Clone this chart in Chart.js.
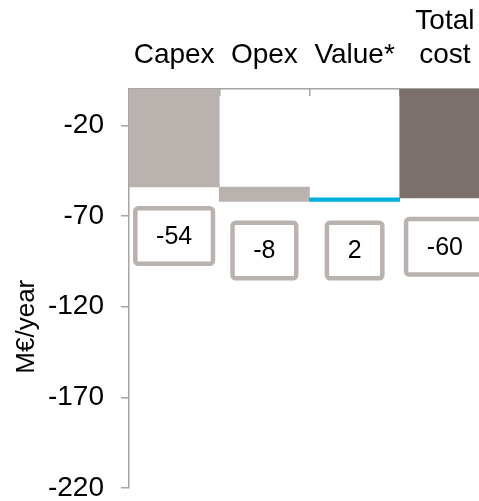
<!DOCTYPE html>
<html>
<head>
<meta charset="utf-8">
<script src="https://cdn.jsdelivr.net/npm/chart.js@4/dist/chart.umd.min.js"></script>
<style>
  html, body { margin: 0; padding: 0; background: #fff; overflow: hidden; }
  #wrap { width: 500px; height: 522px; position: relative; }
</style>
</head>
<body>
<div id="wrap"><canvas id="c" width="500" height="522"></canvas></div>
<script>
// Cost bridge, M€/year
const categories = [['Capex'], ['Opex'], ['Value*'], ['Total', 'cost']];
const deltas = [-54, -8, 2, -60];
const barColors = ['#BAB2AF', '#BAB2AF', '#00B0DC', '#7B706B'];
const yTicks = [-20, -70, -120, -170, -220];
const yMin = -220;
const yMax = 0;
const axisTitle = 'M€/year';

// Steps stack on the running total; the last bar is the total, drawn from zero.
const ranges = [];
let running = 0;
deltas.forEach((d, i) => {
  if (i === deltas.length - 1) {
    ranges.push([0, d]);
  } else {
    ranges.push([running, running + d]);
    running += d;
  }
});

const FONT = 'Liberation Sans, Arial, sans-serif';
const AXIS_GREY = '#A6A6A6';
const BOX_GREY = '#BAB2AF';

// Boxed value labels under each bar
const valueBoxes = {
  id: 'valueBoxes',
  afterDatasetsDraw(chart) {
    const ctx = chart.ctx;
    const meta = chart.getDatasetMeta(0);
    ctx.save();
    ctx.font = '25px ' + FONT;
    meta.data.forEach((bar, i) => {
      const p = bar.getProps(['x', 'y', 'base'], true);
      const lower = Math.max(p.y, p.base);
      const text = String(deltas[i]);
      const w = ctx.measureText(text).width + 46;
      const h = 60;
      const top = lower + 19;
      const left = p.x - w / 2;
      ctx.beginPath();
      ctx.roundRect(left + 2.25, top + 2.25, w - 4.5, h - 4.5, 3);
      ctx.fillStyle = '#fff';
      ctx.fill();
      ctx.lineWidth = 4.5;
      ctx.strokeStyle = BOX_GREY;
      ctx.stroke();
      ctx.fillStyle = '#000';
      ctx.textAlign = 'center';
      ctx.textBaseline = 'middle';
      ctx.fillText(text, p.x, top + h / 2 + 1);
    });
    ctx.restore();
  }
};

// Rotated unit title beside the value axis
const unitTitle = {
  id: 'unitTitle',
  afterDraw(chart) {
    const ctx = chart.ctx;
    const yc = chart.scales.y.getPixelForValue(-131);
    ctx.save();
    ctx.translate(27, yc);
    ctx.rotate(-Math.PI / 2);
    ctx.font = '26px ' + FONT;
    ctx.fillStyle = '#000';
    ctx.textAlign = 'center';
    ctx.textBaseline = 'middle';
    ctx.fillText(axisTitle, 0, 0);
    ctx.restore();
  }
};

new Chart(document.getElementById('c'), {
  type: 'bar',
  data: {
    labels: categories,
    datasets: [{
      data: ranges,
      backgroundColor: barColors,
      borderWidth: 0,
      barPercentage: 1,
      categoryPercentage: 1
    }]
  },
  options: {
    responsive: false,
    animation: false,
    devicePixelRatio: 1,
    layout: { padding: { left: 0, right: 10, top: 0, bottom: 14 } },
    plugins: { legend: { display: false }, tooltip: { enabled: false } },
    scales: {
      x: {
        position: 'top',
        offset: true,
        grid: { drawOnChartArea: false, tickLength: -7, color: AXIS_GREY, lineWidth: 1.5, offset: true },
        border: { color: AXIS_GREY, width: 1.5 },
        ticks: { font: { family: FONT, size: 28 }, color: '#000', padding: 24, maxRotation: 0, autoSkip: false },
        afterFit(s) { s.height = 89; }
      },
      y: {
        min: yMin,
        max: yMax,
        afterBuildTicks(s) { s.ticks = yTicks.map(v => ({ value: v })); },
        grid: { drawOnChartArea: false, tickLength: 8, color: AXIS_GREY, lineWidth: 1.5 },
        border: { color: AXIS_GREY, width: 1.5 },
        ticks: { font: { family: FONT, size: 28 }, color: '#000', padding: 17 },
        afterFit(s) { s.width = 129; }
      }
    }
  },
  plugins: [valueBoxes, unitTitle]
});
</script>
</body>
</html>
